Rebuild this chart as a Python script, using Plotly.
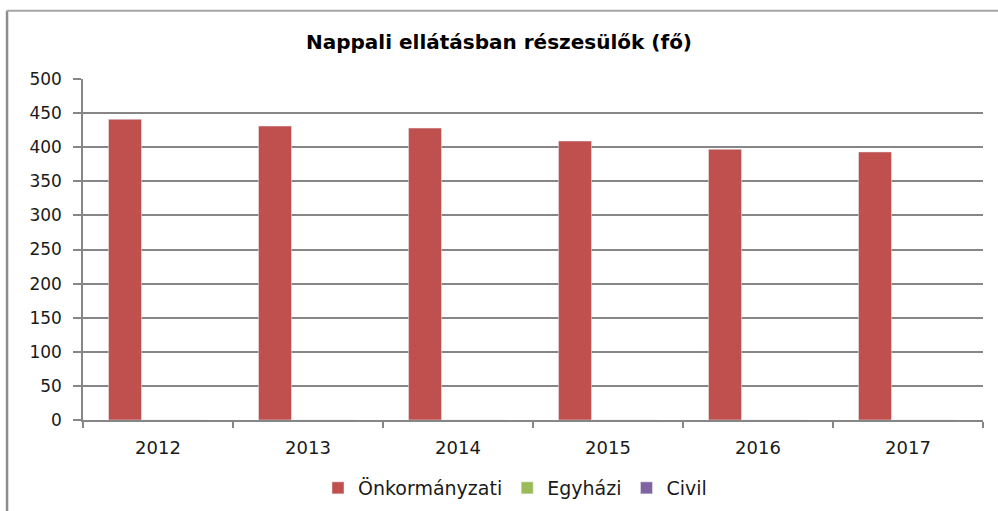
import plotly.graph_objects as go

years = ["2012", "2013", "2014", "2015", "2016", "2017"]
onkormanyzati = [441, 431, 428, 409, 397, 393]
egyhazi = [0, 0, 0, 0, 0, 0]
civil = [0, 0, 0, 0, 0, 0]
y_ticks = [0, 50, 100, 150, 200, 250, 300, 350, 400, 450, 500]

font_family = "DejaVu Sans, Verdana, sans-serif"
axis_gray = "#868686"
text_color = "#1a1a1a"

fig = go.Figure()
fig.add_trace(go.Bar(name="Önkormányzati", x=years, y=onkormanyzati, marker_color="#C0504D"))
fig.add_trace(go.Bar(name="Egyházi", x=years, y=egyhazi, marker_color="#9BBB59"))
fig.add_trace(go.Bar(name="Civil", x=years, y=civil, marker_color="#8064A2"))

fig.update_layout(
    width=998,
    height=511,
    margin=dict(l=83, r=15, t=79, b=91, autoexpand=False),
    paper_bgcolor="white",
    plot_bgcolor="white",
    barmode="group",
    bargap=0.34,
    bargroupgap=0,
    font=dict(family=font_family, size=15, color=text_color),
    title=dict(
        text="<b>Nappali ellátásban részesülők (fő)</b>",
        x=0.5,
        xanchor="center",
        y=0.918,
        yanchor="middle",
        font=dict(family=font_family, size=20, color="#000000"),
    ),
    legend=dict(
        orientation="h",
        x=0.48,
        xanchor="center",
        yref="container",
        y=0.045,
        yanchor="middle",
        font=dict(family=font_family, size=19, color=text_color),
        itemwidth=30,
        traceorder="normal",
    ),
    showlegend=True,
    shapes=[
        dict(type="line", xref="paper", yref="paper", x0=-0.0844, x1=-0.0844, y0=-0.3, y1=1.2,
             line=dict(color="#8c8c8c", width=2.5)),
        dict(type="line", xref="paper", yref="paper", x0=-0.0844, x1=1.02, y0=1.2, y1=1.2,
             line=dict(color="#a6a6a6", width=2)),
    ],
)

fig.update_xaxes(
    showline=True,
    linecolor=axis_gray,
    linewidth=1.5,
    ticks="outside",
    tickson="boundaries",
    ticklen=6,
    tickcolor=axis_gray,
    tickwidth=1.5,
    showgrid=False,
    tickfont=dict(family=font_family, size=18, color=text_color),
    ticklabelstandoff=11,
)
fig.update_yaxes(
    range=[0, 500],
    tickvals=y_ticks,
    showline=True,
    linecolor=axis_gray,
    linewidth=1.5,
    ticks="outside",
    ticklen=8,
    tickcolor=axis_gray,
    tickwidth=1.5,
    showgrid=True,
    gridcolor=axis_gray,
    gridwidth=1.5,
    zeroline=False,
    tickfont=dict(family=font_family, size=17, color=text_color),
    ticklabelstandoff=8,
)

fig.write_html("out.html")
